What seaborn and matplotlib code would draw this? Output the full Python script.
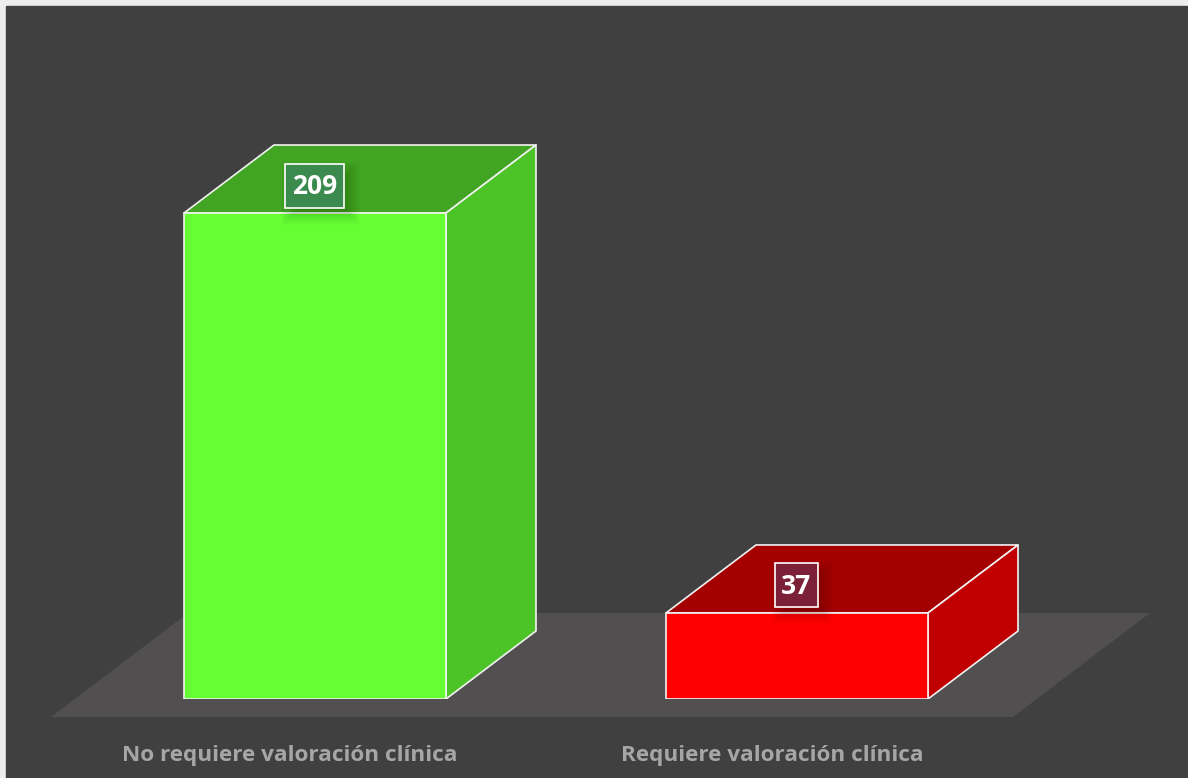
import pandas as pd
import seaborn as sns
from matplotlib import pyplot as plt
from matplotlib.patches import Polygon, Rectangle
from matplotlib.transforms import ScaledTranslation

categories = ["No requiere valoración clínica", "Requiere valoración clínica"]
values = [209, 37]
front_colors = ["#66FF33", "#FF0000"]
top_colors = ["#41A422", "#A50000"]
side_colors = ["#4CC428", "#C00000"]
label_colors = ["#3C8B4E", "#7C2038"]

W, H = 1188, 778
PANEL = "#404040"
FLOOR = "#514F4F"
EDGE = "#F2F2F2"
PX_PER_CAT = 482
PX_PER_VAL = 486 / 209
DX = 90 / PX_PER_CAT
DY = 68 / PX_PER_VAL


def to_data(px, py):
    return (px - 315) / PX_PER_CAT, (699 - py) / PX_PER_VAL


sns.set_theme(style="white")
plt.rcParams["font.family"] = ["Open Sans", "DejaVu Sans"]

fig = plt.figure(figsize=(W / 100, H / 100), dpi=100, facecolor="#EDEDED")
fig.patches.append(Rectangle((6 / W, 0), 1 - 6 / W, 1 - 6 / H, transform=fig.transFigure, color=PANEL, zorder=-10))
ax = fig.add_axes([6 / W, (H - 699) / H, (W - 6) / W, 693 / H])
ax.patch.set_visible(False)

df = pd.DataFrame({"cat": categories, "n": values})
sns.barplot(data=df, x="cat", y="n", hue="cat", palette=front_colors, width=262 / PX_PER_CAT, saturation=1,
            edgecolor=EDGE, linewidth=1.2, legend=False, ax=ax, zorder=5)

ax.set_xlim(to_data(6, 0)[0], to_data(W, 0)[0])
ax.set_ylim(0, to_data(0, 6)[1])
sns.despine(ax=ax, left=True, bottom=True)
ax.set_xlabel("")
ax.set_ylabel("")
ax.set_yticks([])
ax.grid(False)

# floor under the bars
floor = [to_data(51, 717), to_data(1013, 717), to_data(1150, 613), to_data(188, 613)]
ax.add_patch(Polygon(floor, closed=True, color=FLOOR, lw=0, zorder=1, clip_on=False))

# depth faces, taken from the bars seaborn drew
for i, bar in enumerate(ax.patches[:2]):
    x0, x1, h = bar.get_x(), bar.get_x() + bar.get_width(), bar.get_height()
    top = [(x0, h), (x1, h), (x1 + DX, h + DY), (x0 + DX, h + DY)]
    side = [(x1, 0), (x1 + DX, DY), (x1 + DX, h + DY), (x1, h)]
    ax.add_patch(Polygon(top, closed=True, fc=top_colors[i], ec=EDGE, lw=1.2, zorder=4, joinstyle="round"))
    ax.add_patch(Polygon(side, closed=True, fc=side_colors[i], ec=EDGE, lw=1.2, zorder=4, joinstyle="round"))

# value labels with soft shadow
for i, v in enumerate(values):
    x = i - 0.5 / PX_PER_CAT
    y = v + 27.5 / PX_PER_VAL
    half_w = (59 if v > 99 else 43) / 2 / PX_PER_CAT
    half_h = 22 / PX_PER_VAL
    for grow in range(10, -7, -1):
        gx, gy = grow / PX_PER_CAT, grow / PX_PER_VAL
        ax.add_patch(Rectangle((x - half_w - gx + 6 / PX_PER_CAT, y - half_h - gy - 7 / PX_PER_VAL),
                               2 * (half_w + gx), 2 * (half_h + gy), fc="black", ec="none", alpha=0.013, zorder=6))
    ax.add_patch(Rectangle((x - half_w, y - half_h), 2 * half_w, 2 * half_h, fc=label_colors[i], ec="white", lw=1.2, zorder=7))
    ax.text(x, y - 0.5, str(v), ha="center", va="center", color="white", fontsize=19,
            fontweight="bold", zorder=8)

ax.tick_params(axis="x", length=0, pad=33, labelsize=16.2, colors="#A6A6A6")
offset = ScaledTranslation(-25 / 100, 0, fig.dpi_scale_trans)
for label in ax.get_xticklabels():
    label.set_fontweight("bold")
    label.set_transform(label.get_transform() + offset)

fig.savefig("out.png", dpi=100, facecolor=fig.get_facecolor())
